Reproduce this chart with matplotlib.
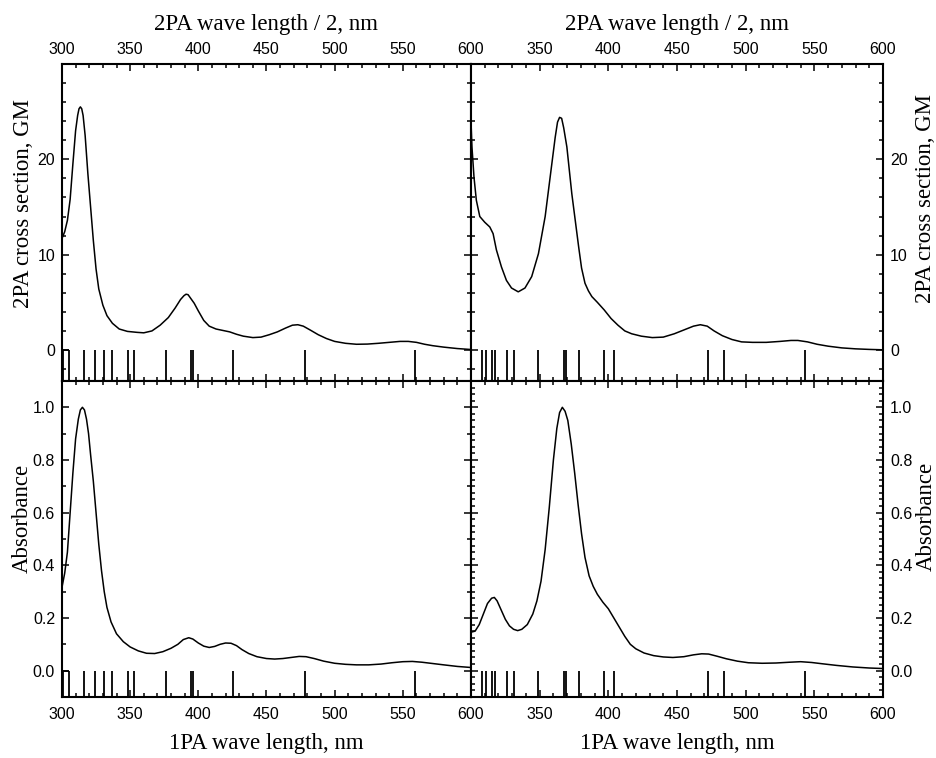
import matplotlib.pyplot as plt
from matplotlib.ticker import MultipleLocator

plt.rcParams['font.family'] = 'Liberation Sans'

# ---- data ----
# 2PA cross section, left compound (x = 2PA wave length / 2, nm)
tl_x = [300, 302, 304, 306, 308, 310, 311.5, 312.5, 313.5, 314.5, 315.5, 317, 319, 321, 323, 325, 327,
        330, 333, 337, 342, 348, 355, 360, 366, 372, 378, 383, 387, 389.5, 391, 392.5, 394,
        397, 400, 404, 408, 413, 418, 423, 428, 433, 440, 446, 452, 458, 464, 469,
        473, 477, 482, 488, 494, 500, 508, 516, 524, 532, 540, 548, 554, 560, 566,
        572, 580, 590, 600]
tl_y = [11.7, 12.4, 13.6, 15.8, 19.5, 23.0, 24.6, 25.3, 25.5, 25.3, 24.6, 22.5, 18.5, 15.0, 11.5, 8.5, 6.4,
        4.7, 3.6, 2.8, 2.2, 1.95, 1.85, 1.8, 2.0, 2.6, 3.4, 4.4, 5.3, 5.7, 5.85, 5.8, 5.5,
        4.9, 4.1, 3.1, 2.5, 2.2, 2.05, 1.9, 1.65, 1.45, 1.3, 1.35, 1.6, 1.9, 2.3, 2.6,
        2.65, 2.5, 2.1, 1.6, 1.2, 0.9, 0.7, 0.6, 0.62, 0.7, 0.8, 0.9, 0.9, 0.8, 0.6,
        0.45, 0.3, 0.15, 0.05]

# 2PA cross section, right compound
tr_x = [300, 300.7, 302.2, 303.9, 306.4, 310, 313.7, 316.1, 318.5, 322.2, 325.8, 329.5,
        334.4, 339.3, 344.2, 349.1, 354, 357.6, 361.3, 363, 364.5, 366, 367.5, 369.8, 373.4, 378.4,
        380.5, 383, 385.5, 388, 392, 397, 402, 407, 412, 417, 424, 432, 440, 448, 455, 462, 467,
        472, 477, 483, 490, 497, 505, 515, 525, 533, 538, 545, 552, 560, 570, 580, 590, 600]
tr_y = [24.0, 21.3, 18.1, 15.7, 14.0, 13.4, 12.9, 12.2, 10.5, 8.7, 7.3, 6.5,
        6.1, 6.5, 7.7, 10.1, 14.0, 18.1, 22.3, 23.9, 24.4, 24.3, 23.3, 21.3, 16.4, 10.8,
        8.6, 7.0, 6.2, 5.6, 5.0, 4.2, 3.3, 2.6, 2.0, 1.7, 1.45, 1.3, 1.35, 1.7, 2.1, 2.5, 2.65,
        2.5, 2.0, 1.5, 1.1, 0.85, 0.8, 0.8, 0.9, 1.0, 1.0, 0.85, 0.6, 0.4, 0.22, 0.12, 0.06, 0.02]

# Absorbance, left compound (x = 1PA wave length, nm)
bl_x = [300, 302, 304, 306, 308, 310, 312, 313.5, 315, 316.5, 318, 319.5, 321, 323, 325, 327,
        329, 331, 333, 336, 340, 345, 350, 356, 362, 368, 374, 380, 385, 389, 393,
        396, 400, 404, 408, 412, 416, 420, 424, 428, 432, 437, 443, 450, 456, 462,
        468, 474, 479, 485, 492, 500, 508, 516, 525, 534, 542, 550, 557, 564, 572,
        580, 590, 600]
bl_y = [0.316, 0.37, 0.45, 0.60, 0.75, 0.88, 0.955, 0.99, 1.0, 0.99, 0.955, 0.90, 0.82, 0.72, 0.60, 0.48,
        0.38, 0.30, 0.24, 0.185, 0.14, 0.11, 0.09, 0.075, 0.066, 0.065, 0.072, 0.085, 0.10, 0.118, 0.125,
        0.12, 0.105, 0.093, 0.088, 0.092, 0.10, 0.105, 0.104, 0.095, 0.08, 0.065, 0.053, 0.046, 0.044, 0.046,
        0.05, 0.054, 0.053, 0.046, 0.036, 0.028, 0.024, 0.022, 0.022, 0.025, 0.03, 0.034, 0.035, 0.032, 0.027,
        0.022, 0.016, 0.012]

# Absorbance, right compound
br_x = [300, 303, 306, 309, 312, 315, 317, 319, 322, 325, 328, 331, 334, 337, 341, 345,
        348, 351, 354, 357, 360, 362.5, 364.5, 366.5, 368.5, 370.5, 373, 375.5, 378, 380.5, 383, 386,
        389, 392, 396, 400, 404, 408, 412, 416, 420, 426, 433, 440, 447, 455, 462, 468,
        473, 479, 486, 494, 502, 512, 522, 532, 540, 548, 556, 566, 578, 590, 600]
br_y = [0.146, 0.15, 0.175, 0.215, 0.255, 0.275, 0.278, 0.265, 0.23, 0.195, 0.17, 0.157, 0.152, 0.157, 0.175, 0.215,
        0.265, 0.34, 0.46, 0.62, 0.80, 0.92, 0.98, 1.0, 0.985, 0.95, 0.86, 0.75, 0.63, 0.52, 0.43, 0.36,
        0.32, 0.29, 0.26, 0.235, 0.20, 0.165, 0.13, 0.10, 0.083, 0.067, 0.057, 0.052, 0.05, 0.053, 0.06, 0.064,
        0.063, 0.055, 0.045, 0.036, 0.03, 0.028, 0.029, 0.032, 0.034, 0.031, 0.026, 0.02, 0.014, 0.01, 0.008]

# calculated transitions (stick positions)
sticks_left = [300.5, 304.8, 315.8, 324.5, 330.8, 336.8, 348.4, 353, 376.2, 394.6,
               396.2, 425.8, 478.3, 559]
sticks_right = [308.3, 310.8, 315.2, 317.4, 326.1, 331.5, 349.1, 367.6, 369.3, 378.9,
                396.9, 404.2, 472.6, 484.3, 543.1]

xticks = [300, 350, 400, 450, 500, 550, 600]

serif = 'Liberation Serif'
lab_size = 16.5
tick_size = 11.5

fig = plt.figure(figsize=(9.36, 7.58), dpi=100)

left, mid, right = 0.0662, 0.5032, 0.9434
bottom, hmid, top = 0.0805, 0.4974, 0.9156

ax_tl = fig.add_axes([left, hmid, mid - left, top - hmid])
ax_tr = fig.add_axes([mid, hmid, right - mid, top - hmid])
ax_bl = fig.add_axes([left, bottom, mid - left, hmid - bottom])
ax_br = fig.add_axes([mid, bottom, right - mid, hmid - bottom])

panels = [
    (ax_tl, tl_x, tl_y, sticks_left, (-3.25, 30)),
    (ax_tr, tr_x, tr_y, sticks_right, (-3.25, 30)),
    (ax_bl, bl_x, bl_y, sticks_left, (-0.1, 1.1)),
    (ax_br, br_x, br_y, sticks_right, (-0.1, 1.1)),
]

for ax, xs, ys, st, ylim in panels:
    ax.plot(xs, ys, color='black', lw=1.1)
    ax.set_xlim(300, 600)
    ax.set_ylim(ylim)
    ax.vlines(st, ylim[0], 0, color='black', lw=1.3)
    ax.set_xticks(xticks)
    ax.xaxis.set_minor_locator(MultipleLocator(10))
    for sp in ax.spines.values():
        sp.set_linewidth(1.5)
    ax.tick_params(which='both', direction='in', top=True, bottom=True,
                   left=True, right=True, labelsize=tick_size, width=1.1, pad=5)
    ax.tick_params(which='major', length=5)
    ax.tick_params(which='minor', length=3)

# little box at the first pair of left sticks
for ax in (ax_tl, ax_bl):
    ax.hlines(0, sticks_left[0], sticks_left[1], color='black', lw=1.3)

# top row: x labels on top
for ax in (ax_tl, ax_tr):
    ax.tick_params(axis='x', labeltop=True, labelbottom=False)
    ax.xaxis.set_label_position('top')
    ax.set_xlabel('2PA wave length / 2, nm', family=serif, size=lab_size, labelpad=9)
    ax.set_yticks([0, 10, 20])
    ax.yaxis.set_minor_locator(MultipleLocator(2))

for ax in (ax_bl, ax_br):
    ax.tick_params(axis='x', which='major', pad=7)
    ax.set_xlabel('1PA wave length, nm', family=serif, size=lab_size, labelpad=8)
    ax.set_yticks([0.0, 0.2, 0.4, 0.6, 0.8, 1.0])
    ax.set_yticklabels(['0.0', '0.2', '0.4', '0.6', '0.8', '1.0'])
ax_bl.yaxis.set_minor_locator(MultipleLocator(0.1))
ax_br.yaxis.set_minor_locator(MultipleLocator(0.025))

# right column: y labels on the right, hide the shared "300"
for ax in (ax_tr, ax_br):
    ax.tick_params(axis='y', labelleft=False, labelright=True)
    ax.yaxis.set_label_position('right')
    ax.set_xticklabels([''] + [str(v) for v in xticks[1:]])

ax_tl.set_ylabel('2PA cross section, GM', family=serif, size=lab_size)
ax_tr.set_ylabel('2PA cross section, GM', family=serif, size=lab_size)
ax_bl.set_ylabel('Absorbance', family=serif, size=lab_size)
ax_br.set_ylabel('Absorbance', family=serif, size=lab_size)
ax_tl.yaxis.set_label_coords(-0.068, 0.56)
ax_bl.yaxis.set_label_coords(-0.072, 0.566)
ax_tr.yaxis.set_label_coords(1.078, 0.576)
ax_br.yaxis.set_label_coords(1.08, 0.57)

fig.savefig('out.png', dpi=100)
